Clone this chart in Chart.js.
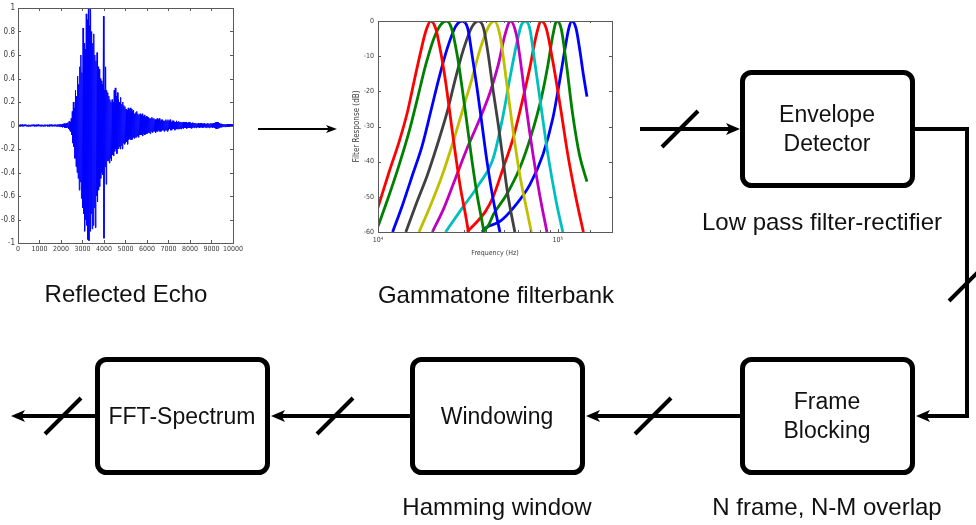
<!DOCTYPE html>
<html>
<head>
<meta charset="utf-8">
<script src="https://cdn.jsdelivr.net/npm/chart.js@4.4.1/dist/chart.umd.min.js"></script>
<style>
  html, body { margin: 0; padding: 0; background: #fff; }
  #page { position: relative; width: 976px; height: 525px; overflow: hidden;
          font-family: "Liberation Sans", Arial, sans-serif; color: #111; }
  #page canvas { position: absolute; }
  .lbl { position: absolute; white-space: nowrap; font-size: 24px; line-height: 24px;
         transform: translate(-50%, -50%); }
  .inbox { font-size: 23px; }
</style>
</head>
<body>
<div id="page">
  <canvas id="diagram" width="976" height="525" style="left:0;top:0"></canvas>
  <canvas id="echoChart" width="245" height="262" style="left:0;top:0"></canvas>
  <canvas id="gammaChart" width="280" height="262" style="left:340px;top:0"></canvas>

  <div class="lbl" style="left:126px;top:294px">Reflected Echo</div>
  <div class="lbl" style="left:496px;top:295px">Gammatone filterbank</div>
  <div class="lbl" style="left:822px;top:222px">Low pass filter-rectifier</div>
  <div class="lbl inbox" style="left:827px;top:114px">Envelope</div>
  <div class="lbl inbox" style="left:827px;top:143px">Detector</div>
  <div class="lbl inbox" style="left:827px;top:401px">Frame</div>
  <div class="lbl inbox" style="left:827px;top:430px">Blocking</div>
  <div class="lbl inbox" style="left:497px;top:416px">Windowing</div>
  <div class="lbl inbox" style="left:182px;top:416px">FFT-Spectrum</div>
  <div class="lbl" style="left:497px;top:507px">Hamming window</div>
  <div class="lbl" style="left:827px;top:507px">N frame, N-M overlap</div>
</div>

<script>
// reflected echo, one value every 25 samples (0 .. 10000)
const echoStep = 25;
const echoSamples = [
  0.006,-0.007,0.005,-0.008,0.007,-0.005,0.006,-0.006,0.008,-0.007,
  0.005,-0.006,0.007,-0.005,0.008,-0.006,0.006,-0.007,0.005,-0.008,
  0.007,-0.006,0.005,-0.007,0.006,-0.005,0.008,-0.006,0.007,-0.005,
  0.006,-0.008,0.005,-0.006,0.007,-0.007,0.006,-0.005,0.008,-0.006,
  0.005,-0.007,0.006,-0.006,0.007,-0.005,0.006,-0.008,0.005,-0.006,
  0.008,-0.006,0.007,-0.005,0.006,-0.007,0.005,-0.006,0.007,-0.008,
  0.006,-0.005,0.008,-0.006,0.005,-0.007,0.006,-0.006,0.007,-0.005,
  0.008,-0.007,0.006,-0.008,0.009,-0.007,0.01,-0.009,0.012,-0.01,
  0.011,-0.013,0.012,-0.015,0.014,-0.012,0.016,-0.018,0.015,-0.02,
  0.018,-0.02,0.022,
  0.02,-0.03,0.035,-0.04,0.03,-0.05,0.06,-0.08,
  0.12,-0.15,0.2,-0.18,0.15,-0.28,0.3,-0.35,0.25,-0.4,
  0.42,-0.45,0.35,-0.55,0.5,-0.48,0.6,-0.62,0.45,-0.7,
  0.83,-0.75,0.7,-0.9,0.65,-0.8,0.95,-0.85,0.9,-0.97,
  1.0,-0.98,0.85,-0.9,0.99,-0.75,0.8,-0.88,0.7,-0.85,
  0.78,-0.7,0.6,-0.87,0.55,-0.6,0.62,-0.65,0.5,-0.55,
  0.48,-0.52,0.4,-0.45,0.38,-0.4,0.35,-0.42,0.93,-0.96,
  0.3,-0.35,0.5,-0.5,0.3,-0.3,0.28,-0.3,0.25,-0.32,
  0.22,-0.28,0.2,-0.3,0.22,-0.25,0.2,-0.26,0.3,-0.22,
  0.32,-0.2,0.25,-0.24,0.28,-0.2,0.22,-0.18,0.2,-0.2,
  0.24,-0.17,0.18,-0.2,0.2,-0.15,0.17,-0.16,0.16,-0.15,
  0.14,-0.14,0.13,-0.16,0.15,-0.12,0.14,-0.11,0.15,-0.12,
  0.14,-0.12,0.12,-0.1,0.13,-0.11,0.1,-0.1,0.11,-0.1,
  0.12,-0.09,0.1,-0.1,0.09,-0.08,0.1,-0.08,0.09,-0.08,
  0.1,-0.09,0.08,-0.07,0.09,-0.08,0.07,-0.07,0.08,-0.07,
  0.07,-0.06,0.07,-0.06,0.06,-0.07,0.06,-0.05,0.07,-0.06,
  0.06,-0.05,0.06,-0.05,0.05,-0.06,0.05,-0.05,0.06,-0.05,
  0.05,-0.04,0.06,-0.05,0.04,-0.05,0.05,-0.04,0.05,-0.04,
  0.04,-0.05,0.04,-0.04,0.05,-0.04,0.04,-0.05,0.05,-0.04,
  0.04,-0.03,0.05,-0.04,0.03,-0.04,0.04,-0.03,0.04,-0.03,
  0.03,-0.04,0.03,-0.03,0.04,-0.03,0.03,-0.03,0.035,-0.03,
  0.03,-0.025,0.03,-0.03,0.025,-0.02,0.03,-0.025,0.03,-0.02,
  0.025,-0.02,0.03,-0.025,0.02,-0.02,0.025,-0.02,0.03,-0.02,
  0.02,-0.025,0.02,-0.02,0.025,-0.015,0.02,-0.02,0.02,-0.015,
  0.02,-0.02,0.015,-0.015,0.02,-0.015,0.015,-0.02,0.02,-0.015,
  0.02,-0.015,0.015,-0.02,0.015,-0.015,0.02,-0.015,0.015,-0.02,
  0.015,-0.015,0.02,-0.015,0.015,-0.02,0.015,-0.015,0.02,-0.015,
  0.015,-0.02,0.02,-0.015,0.02,-0.02,0.025,-0.025,0.03,-0.03,
  0.03,-0.025,0.025,-0.02,0.02,-0.015,0.015,-0.015,0.015,-0.012,
  0.012,-0.01,0.012,-0.01,0.01,-0.012,0.01,-0.01,0.012,-0.01,
  0.01,-0.01,0.012,-0.01,0.01,-0.008,0.01,-0.01,0.008,-0.008
];

// gammatone filterbank: frequency (Hz) and response (dB) of each channel
const filterColors = ['#ff0000', '#008000', '#0000ff', '#404040', '#bfbf00',
                      '#bf00bf', '#00bfbf', '#ff0000', '#008000', '#0000ff'];
const filterFreqs = [
  [10000, 11550, 13110, 14590, 15870, 17280, 18420, 19630, 20910, 22290, 23750, 25310, 26970, 28750, 30640, 31830],
  [10000, 11550, 13110, 14900, 16580, 18420, 20470, 22290, 24060, 25640, 27560, 29370, 31300, 33360, 35550, 37880, 38850],
  [12060, 13690, 15550, 17660, 19630, 21810, 24270, 26970, 29370, 31540, 33360, 35550, 37880, 40380, 43740, 47630],
  [14280, 16220, 18820, 21370, 24270, 26970, 29980, 33360, 36280, 38660, 41050, 43740, 46800, 49870, 52950, 57650],
  [16910, 19630, 22780, 25870, 29370, 33360, 37070, 41210, 44300, 47630, 51810, 56420, 61430, 66820, 71210],
  [20060, 23250, 26970, 31300, 36280, 42110, 46620, 50770, 54520, 58830, 62700, 66820, 72770, 79230, 86960],
  [23750, 29370, 36280, 43740, 49680, 54100, 58830, 62700, 65980, 69780, 74350, 80860, 88070, 97860, 106570],
  [31300, 39510, 43740, 49680, 56420, 62700, 69780, 75880, 80860, 86180, 93840, 104290, 113570, 126210, 138670],
  [38510, 41210, 43740, 51810, 61430, 71210, 80860, 88070, 93840, 98740, 104290, 111130, 121030, 131800, 145170],
  [37880, 39510, 47630, 56420, 69780, 82630, 93840, 102190, 108900, 115020, 119500, 126210, 132840, 138670, 145170]
];
const filterGains = [
  [-53, -42.8, -34.3, -25.8, -17.2, -8.7, -3, 0, -2.1, -8.7, -17.2, -27.6, -38, -47.5, -55, -60],
  [-58.4, -49.4, -40.9, -31.4, -22, -12.5, -4.9, -1.1, 0, -2.1, -9.7, -19.1, -29.5, -40, -49.4, -57, -60],
  [-60, -52.3, -43.8, -35.2, -25.8, -16.3, -7.8, -1.6, 0, -2.1, -9.7, -19.1, -29.5, -40, -50.9, -60],
  [-60, -52.3, -43.8, -35.2, -25.8, -16.3, -7.8, -1.6, 0, -2.1, -9.7, -20, -30, -40.5, -50, -60],
  [-60, -52.3, -43.8, -35.2, -25.8, -16.3, -7.8, -1.6, 0, -4, -17.2, -31.4, -43.8, -53.2, -60],
  [-60, -53.2, -44.7, -36.2, -28.6, -20.1, -12.5, -4, 0, -4, -13.4, -24.8, -38, -49.4, -60],
  [-60, -53.2, -46.6, -39, -26.7, -16.3, -6.8, -1.1, 0, -2.1, -11.6, -24.8, -38, -51.3, -60],
  [-60, -54.2, -49.9, -41.8, -33.3, -23.9, -13.4, -4, 0, -2.1, -11.6, -25.8, -38, -50.4, -60],
  [-60, -58, -55.1, -49.4, -41.8, -32.4, -22, -12.5, -4, 0, -2.1, -11.6, -26.7, -38, -45.7],
  [-60, -58.9, -57, -53.2, -46.6, -38, -27.6, -17.2, -8.7, -2.1, 0, -2.1, -8.7, -15.3, -21.5]
];

const tickFamily = '"Liberation Sans Narrow", "DejaVu Sans Condensed", "Liberation Sans", Arial, sans-serif';
const tickColor = '#3a3a3a';

// matlab style frame: box all round, ticks pointing inwards
const matlabAxes = {
  id: 'matlabAxes',
  afterDatasetsDraw(chart) {
    const ctx = chart.ctx;
    const a = chart.chartArea;
    const xs = chart.scales.x, ys = chart.scales.y;
    ctx.save();
    ctx.strokeStyle = '#5a5a5a';
    ctx.lineWidth = 1;
    ctx.beginPath();
    xs.ticks.forEach(function(t) {
      const px = Math.round(xs.getPixelForValue(t.value)) + 0.5;
      let len = 3;
      if (xs.type === 'logarithmic' && Math.abs(Math.log10(t.value) % 1) > 1e-9) len = 2;
      ctx.moveTo(px, a.bottom); ctx.lineTo(px, a.bottom - len);
      ctx.moveTo(px, a.top); ctx.lineTo(px, a.top + len);
    });
    ys.ticks.forEach(function(t) {
      const py = Math.round(ys.getPixelForValue(t.value)) + 0.5;
      ctx.moveTo(a.left, py); ctx.lineTo(a.left + 3, py);
      ctx.moveTo(a.right, py); ctx.lineTo(a.right - 3, py);
    });
    ctx.stroke();
    ctx.strokeRect(Math.round(a.left) + 0.5, Math.round(a.top) + 0.5,
                   Math.round(a.width), Math.round(a.height));
    ctx.restore();
  }
};

new Chart(document.getElementById('echoChart'), {
  type: 'line',
  data: {
    datasets: [{
      data: echoSamples.map(function(v, i) { return {x: i * echoStep, y: v}; }),
      borderColor: '#0000ff',
      borderWidth: 1,
      pointRadius: 0,
      tension: 0
    }]
  },
  options: {
    responsive: false,
    animation: false,
    devicePixelRatio: 1,
    layout: { padding: { left: 0, right: 12, top: 8, bottom: 0 } },
    plugins: { legend: { display: false }, tooltip: { enabled: false } },
    scales: {
      x: {
        type: 'linear', min: 0, max: 10000,
        grid: { display: false, drawTicks: false },
        border: { display: false },
        ticks: {
          stepSize: 1000, autoSkip: false, maxRotation: 0, padding: 2,
          color: tickColor, font: { family: tickFamily, size: 7 },
          callback: function(v) { return String(v); }
        },
        afterFit: function(s) { s.height = 19; }
      },
      y: {
        min: -1, max: 1,
        grid: { display: false, drawTicks: false },
        border: { display: false },
        ticks: {
          stepSize: 0.2, autoSkip: false, padding: 3,
          color: tickColor, font: { family: tickFamily, size: 8 },
          callback: function(v) { return String(Math.round(v * 10) / 10); }
        },
        afterFit: function(s) { s.width = 18; }
      }
    }
  },
  plugins: [matlabAxes]
});

new Chart(document.getElementById('gammaChart'), {
  type: 'line',
  data: {
    datasets: filterFreqs.map(function(freqs, k) {
      return {
        data: freqs.map(function(f, i) { return {x: f, y: filterGains[k][i]}; }),
        borderColor: filterColors[k],
        borderWidth: 2.8,
        pointRadius: 0,
        cubicInterpolationMode: 'monotone'
      };
    })
  },
  options: {
    responsive: false,
    animation: false,
    devicePixelRatio: 1,
    layout: { padding: { left: 0, right: 8, top: 21, bottom: 0 } },
    plugins: { legend: { display: false }, tooltip: { enabled: false } },
    scales: {
      x: {
        type: 'logarithmic', min: 10000, max: 200000,
        grid: { display: false, drawTicks: false },
        border: { display: false },
        ticks: {
          autoSkip: false, maxRotation: 0, padding: 4,
          color: tickColor, font: { family: tickFamily, size: 7 },
          callback: function(v) {
            if (v === 10000) return '10\u2074';
            if (v === 100000) return '10\u2075';
            return '';
          }
        },
        title: {
          display: true, text: 'Frequency (Hz)', color: tickColor,
          font: { family: tickFamily, size: 7 }, padding: { top: 0, bottom: 5 }
        },
        afterFit: function(s) { s.height = 30; }
      },
      y: {
        min: -60, max: 0,
        grid: { display: false, drawTicks: false },
        border: { display: false },
        ticks: {
          stepSize: 10, padding: 4,
          color: tickColor, font: { family: tickFamily, size: 7 },
          callback: function(v) { return String(v); }
        },
        title: {
          display: true, text: 'Filter Response (dB)', color: tickColor,
          font: { family: tickFamily, size: 8 }, padding: { top: 12, bottom: 0 }
        },
        afterFit: function(s) { s.width = 38; }
      }
    }
  },
  plugins: [matlabAxes]
});

// block diagram: boxes, signal lines, arrow heads and bus slashes
(function() {
  const ctx = document.getElementById('diagram').getContext('2d');
  ctx.strokeStyle = '#000';
  ctx.fillStyle = '#000';

  function box(l, t, r, b) {
    ctx.lineWidth = 5;
    ctx.beginPath();
    ctx.roundRect(l + 2.5, t + 2.5, r - l - 5, b - t - 5, 9);
    ctx.stroke();
  }

  function head(x, y, dir, len, half) {
    ctx.beginPath();
    ctx.moveTo(x, y);
    ctx.lineTo(x - dir * len, y - half);
    ctx.lineTo(x - dir * len * 0.75, y);
    ctx.lineTo(x - dir * len, y + half);
    ctx.closePath();
    ctx.fill();
  }

  function arrow(x1, x2, y, lw, len, half) {
    const dir = x2 > x1 ? 1 : -1;
    ctx.lineWidth = lw;
    ctx.beginPath();
    ctx.moveTo(x1, y);
    ctx.lineTo(x2 - dir * len * 0.7, y);
    ctx.stroke();
    head(x2, y, dir, len, half);
  }

  function slash(cx, cy) {
    ctx.lineWidth = 4;
    ctx.beginPath();
    ctx.moveTo(cx - 18, cy + 18);
    ctx.lineTo(cx + 18, cy - 18);
    ctx.stroke();
  }

  box(740, 70, 915, 188);
  box(740, 357, 915, 475);
  box(410, 357, 585, 475);
  box(95, 357, 270, 475);

  arrow(258, 337, 129, 2, 11, 4);

  arrow(640, 740, 129, 4, 14, 6);
  slash(680, 129);

  ctx.lineWidth = 4;
  ctx.lineJoin = 'miter';
  ctx.beginPath();
  ctx.moveTo(915, 129);
  ctx.lineTo(967, 129);
  ctx.lineTo(967, 416);
  ctx.lineTo(926, 416);
  ctx.stroke();
  head(916, 416, -1, 14, 6);
  slash(967, 283);

  arrow(740, 586, 416, 4, 14, 6);
  slash(653, 416);
  arrow(410, 271, 416, 4, 14, 6);
  slash(335, 416);
  arrow(95, 11, 416, 4, 14, 6);
  slash(63, 416);
})();
</script>
</body>
</html>
